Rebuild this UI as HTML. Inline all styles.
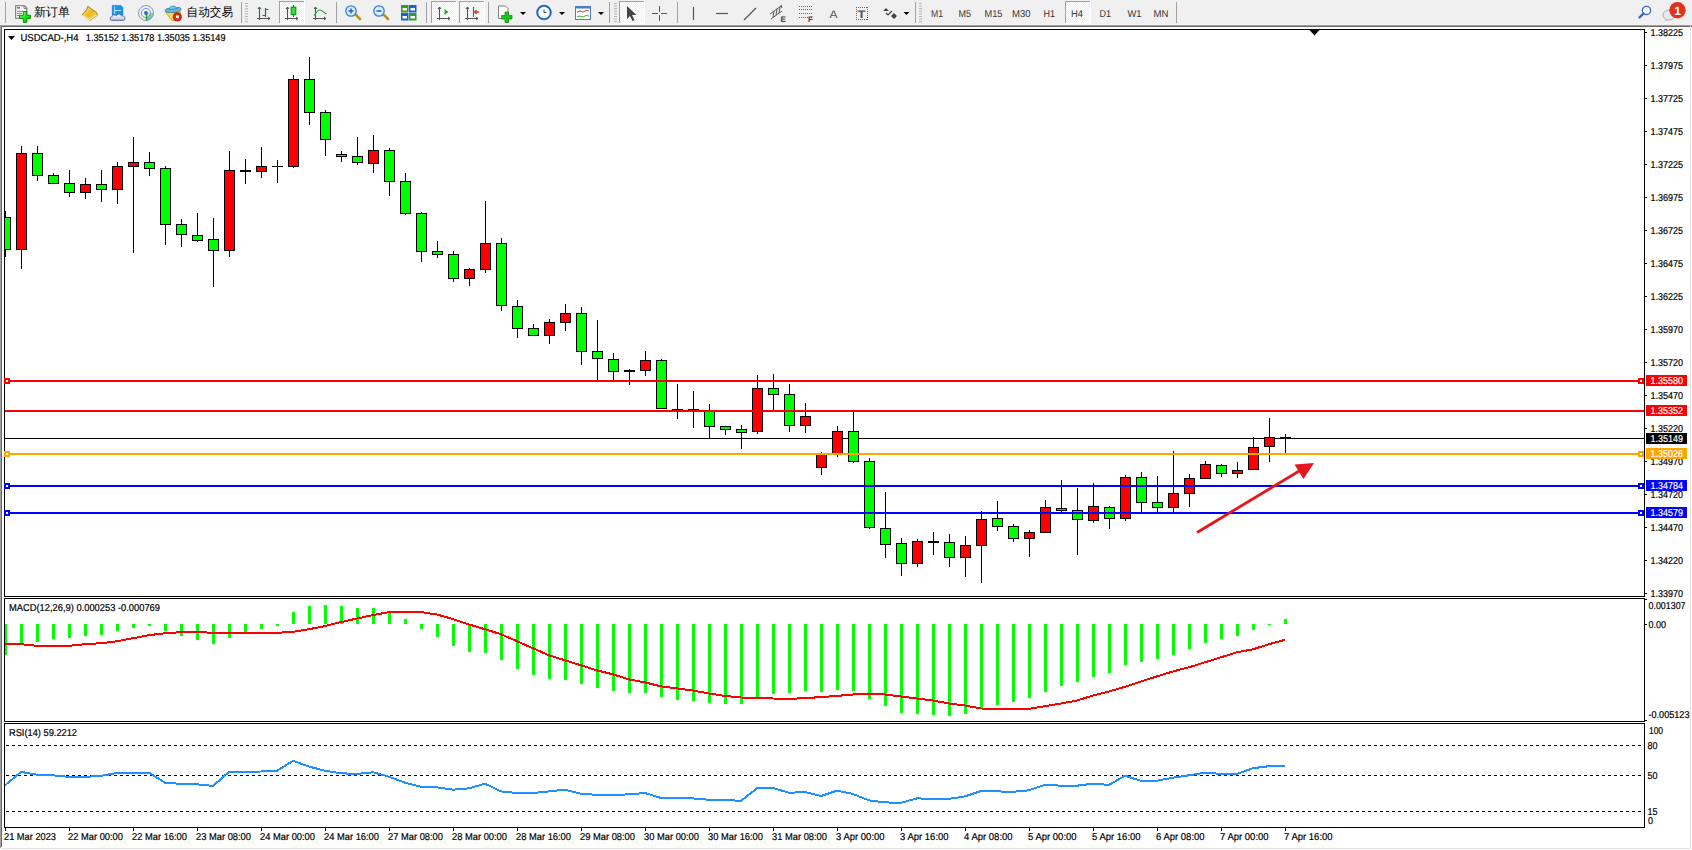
<!DOCTYPE html><html><head><meta charset="utf-8"><style>html,body{margin:0;padding:0;background:#fff;overflow:hidden;}body{width:1692px;height:850px;position:relative;}svg{position:absolute;left:0;top:0;display:block;}text{text-rendering:geometricPrecision;}</style></head><body>
<svg width="1692" height="850" viewBox="0 0 1692 850" shape-rendering="crispEdges">
<rect x="0" y="0" width="1692" height="25" fill="#f0f0f0"/>
<rect x="0" y="25" width="1692" height="1" fill="#a0a0a0"/>
<rect x="0" y="26" width="1692" height="1" fill="#696969"/>
<rect x="0" y="27" width="1692" height="823" fill="#ffffff"/>
<rect x="0" y="25" width="1" height="823" fill="#a0a0a0"/>
<rect x="1" y="26" width="1" height="821" fill="#696969"/>
<rect x="1" y="848" width="1690" height="1" fill="#e3e3e3"/>
<rect x="1690" y="26" width="1" height="823" fill="#e3e3e3"/>
<rect x="4" y="29" width="1641" height="1" fill="#000"/>
<rect x="4" y="29" width="1" height="568" fill="#000"/>
<rect x="1644" y="29" width="1" height="568" fill="#000"/>
<rect x="4" y="596" width="1641" height="1" fill="#000"/>
<rect x="4" y="598" width="1641" height="1" fill="#000"/>
<rect x="4" y="598" width="1" height="124" fill="#000"/>
<rect x="1644" y="598" width="1" height="124" fill="#000"/>
<rect x="4" y="721" width="1641" height="1" fill="#000"/>
<rect x="4" y="723" width="1641" height="1" fill="#000"/>
<rect x="4" y="723" width="1" height="105" fill="#000"/>
<rect x="1644" y="723" width="1" height="105" fill="#000"/>
<rect x="4" y="827" width="1641" height="1" fill="#000"/>
<svg x="5" y="30" width="1639" height="566" viewBox="5 30 1639 566" overflow="hidden">
<rect x="5" y="438" width="1639" height="1" fill="#000"/>
<rect x="5" y="211" width="1" height="46" fill="#000"/>
<rect x="0" y="217" width="11" height="33" fill="#000"/>
<rect x="1" y="218" width="9" height="31" fill="#00ff00"/>
<rect x="21" y="146" width="1" height="123" fill="#000"/>
<rect x="16" y="153" width="11" height="97" fill="#000"/>
<rect x="17" y="154" width="9" height="95" fill="#ff0000"/>
<rect x="37" y="146" width="1" height="35" fill="#000"/>
<rect x="32" y="153" width="11" height="23" fill="#000"/>
<rect x="33" y="154" width="9" height="21" fill="#00ff00"/>
<rect x="53" y="173" width="1" height="11" fill="#000"/>
<rect x="48" y="175" width="11" height="9" fill="#000"/>
<rect x="49" y="176" width="9" height="7" fill="#00ff00"/>
<rect x="69" y="170" width="1" height="27" fill="#000"/>
<rect x="64" y="183" width="11" height="10" fill="#000"/>
<rect x="65" y="184" width="9" height="8" fill="#00ff00"/>
<rect x="85" y="178" width="1" height="21" fill="#000"/>
<rect x="80" y="184" width="11" height="9" fill="#000"/>
<rect x="81" y="185" width="9" height="7" fill="#ff0000"/>
<rect x="101" y="170" width="1" height="32" fill="#000"/>
<rect x="96" y="184" width="11" height="6" fill="#000"/>
<rect x="97" y="185" width="9" height="4" fill="#00ff00"/>
<rect x="117" y="162" width="1" height="42" fill="#000"/>
<rect x="112" y="166" width="11" height="24" fill="#000"/>
<rect x="113" y="167" width="9" height="22" fill="#ff0000"/>
<rect x="133" y="137" width="1" height="116" fill="#000"/>
<rect x="128" y="162" width="11" height="5" fill="#000"/>
<rect x="129" y="163" width="9" height="3" fill="#ff0000"/>
<rect x="149" y="152" width="1" height="24" fill="#000"/>
<rect x="144" y="162" width="11" height="7" fill="#000"/>
<rect x="145" y="163" width="9" height="5" fill="#00ff00"/>
<rect x="165" y="166" width="1" height="79" fill="#000"/>
<rect x="160" y="168" width="11" height="57" fill="#000"/>
<rect x="161" y="169" width="9" height="55" fill="#00ff00"/>
<rect x="181" y="219" width="1" height="28" fill="#000"/>
<rect x="176" y="224" width="11" height="11" fill="#000"/>
<rect x="177" y="225" width="9" height="9" fill="#00ff00"/>
<rect x="197" y="213" width="1" height="29" fill="#000"/>
<rect x="192" y="235" width="11" height="6" fill="#000"/>
<rect x="193" y="236" width="9" height="4" fill="#00ff00"/>
<rect x="213" y="218" width="1" height="69" fill="#000"/>
<rect x="208" y="239" width="11" height="12" fill="#000"/>
<rect x="209" y="240" width="9" height="10" fill="#00ff00"/>
<rect x="229" y="151" width="1" height="106" fill="#000"/>
<rect x="224" y="170" width="11" height="81" fill="#000"/>
<rect x="225" y="171" width="9" height="79" fill="#ff0000"/>
<rect x="245" y="159" width="1" height="25" fill="#000"/>
<rect x="240" y="170" width="11" height="2" fill="#000"/>
<rect x="261" y="147" width="1" height="31" fill="#000"/>
<rect x="256" y="166" width="11" height="6" fill="#000"/>
<rect x="257" y="167" width="9" height="4" fill="#ff0000"/>
<rect x="277" y="160" width="1" height="23" fill="#000"/>
<rect x="272" y="166" width="11" height="1" fill="#000"/>
<rect x="293" y="75" width="1" height="93" fill="#000"/>
<rect x="288" y="79" width="11" height="88" fill="#000"/>
<rect x="289" y="80" width="9" height="86" fill="#ff0000"/>
<rect x="309" y="57" width="1" height="68" fill="#000"/>
<rect x="304" y="79" width="11" height="34" fill="#000"/>
<rect x="305" y="80" width="9" height="32" fill="#00ff00"/>
<rect x="325" y="110" width="1" height="46" fill="#000"/>
<rect x="320" y="112" width="11" height="28" fill="#000"/>
<rect x="321" y="113" width="9" height="26" fill="#00ff00"/>
<rect x="341" y="151" width="1" height="11" fill="#000"/>
<rect x="336" y="154" width="11" height="3" fill="#000"/>
<rect x="337" y="155" width="9" height="1" fill="#00ff00"/>
<rect x="357" y="137" width="1" height="28" fill="#000"/>
<rect x="352" y="156" width="11" height="7" fill="#000"/>
<rect x="353" y="157" width="9" height="5" fill="#00ff00"/>
<rect x="373" y="135" width="1" height="38" fill="#000"/>
<rect x="368" y="150" width="11" height="14" fill="#000"/>
<rect x="369" y="151" width="9" height="12" fill="#ff0000"/>
<rect x="389" y="148" width="1" height="48" fill="#000"/>
<rect x="384" y="150" width="11" height="32" fill="#000"/>
<rect x="385" y="151" width="9" height="30" fill="#00ff00"/>
<rect x="405" y="173" width="1" height="42" fill="#000"/>
<rect x="400" y="181" width="11" height="33" fill="#000"/>
<rect x="401" y="182" width="9" height="31" fill="#00ff00"/>
<rect x="421" y="212" width="1" height="50" fill="#000"/>
<rect x="416" y="213" width="11" height="39" fill="#000"/>
<rect x="417" y="214" width="9" height="37" fill="#00ff00"/>
<rect x="437" y="241" width="1" height="17" fill="#000"/>
<rect x="432" y="251" width="11" height="4" fill="#000"/>
<rect x="433" y="252" width="9" height="2" fill="#00ff00"/>
<rect x="453" y="251" width="1" height="31" fill="#000"/>
<rect x="448" y="254" width="11" height="25" fill="#000"/>
<rect x="449" y="255" width="9" height="23" fill="#00ff00"/>
<rect x="469" y="268" width="1" height="18" fill="#000"/>
<rect x="464" y="269" width="11" height="10" fill="#000"/>
<rect x="465" y="270" width="9" height="8" fill="#ff0000"/>
<rect x="485" y="201" width="1" height="72" fill="#000"/>
<rect x="480" y="243" width="11" height="27" fill="#000"/>
<rect x="481" y="244" width="9" height="25" fill="#ff0000"/>
<rect x="501" y="238" width="1" height="73" fill="#000"/>
<rect x="496" y="243" width="11" height="63" fill="#000"/>
<rect x="497" y="244" width="9" height="61" fill="#00ff00"/>
<rect x="517" y="300" width="1" height="38" fill="#000"/>
<rect x="512" y="306" width="11" height="23" fill="#000"/>
<rect x="513" y="307" width="9" height="21" fill="#00ff00"/>
<rect x="533" y="324" width="1" height="12" fill="#000"/>
<rect x="528" y="328" width="11" height="8" fill="#000"/>
<rect x="529" y="329" width="9" height="6" fill="#00ff00"/>
<rect x="549" y="319" width="1" height="25" fill="#000"/>
<rect x="544" y="322" width="11" height="14" fill="#000"/>
<rect x="545" y="323" width="9" height="12" fill="#ff0000"/>
<rect x="565" y="304" width="1" height="27" fill="#000"/>
<rect x="560" y="313" width="11" height="10" fill="#000"/>
<rect x="561" y="314" width="9" height="8" fill="#ff0000"/>
<rect x="581" y="307" width="1" height="58" fill="#000"/>
<rect x="576" y="313" width="11" height="39" fill="#000"/>
<rect x="577" y="314" width="9" height="37" fill="#00ff00"/>
<rect x="597" y="320" width="1" height="61" fill="#000"/>
<rect x="592" y="351" width="11" height="8" fill="#000"/>
<rect x="593" y="352" width="9" height="6" fill="#00ff00"/>
<rect x="613" y="353" width="1" height="27" fill="#000"/>
<rect x="608" y="359" width="11" height="13" fill="#000"/>
<rect x="609" y="360" width="9" height="11" fill="#00ff00"/>
<rect x="629" y="369" width="1" height="16" fill="#000"/>
<rect x="624" y="370" width="11" height="2" fill="#000"/>
<rect x="645" y="351" width="1" height="25" fill="#000"/>
<rect x="640" y="360" width="11" height="11" fill="#000"/>
<rect x="641" y="361" width="9" height="9" fill="#ff0000"/>
<rect x="661" y="359" width="1" height="50" fill="#000"/>
<rect x="656" y="360" width="11" height="49" fill="#000"/>
<rect x="657" y="361" width="9" height="47" fill="#00ff00"/>
<rect x="677" y="384" width="1" height="35" fill="#000"/>
<rect x="672" y="409" width="11" height="1" fill="#000"/>
<rect x="693" y="391" width="1" height="37" fill="#000"/>
<rect x="688" y="409" width="11" height="1" fill="#000"/>
<rect x="709" y="404" width="1" height="35" fill="#000"/>
<rect x="704" y="411" width="11" height="16" fill="#000"/>
<rect x="705" y="412" width="9" height="14" fill="#00ff00"/>
<rect x="725" y="426" width="1" height="9" fill="#000"/>
<rect x="720" y="426" width="11" height="4" fill="#000"/>
<rect x="721" y="427" width="9" height="2" fill="#00ff00"/>
<rect x="741" y="425" width="1" height="24" fill="#000"/>
<rect x="736" y="429" width="11" height="4" fill="#000"/>
<rect x="737" y="430" width="9" height="2" fill="#00ff00"/>
<rect x="757" y="375" width="1" height="59" fill="#000"/>
<rect x="752" y="388" width="11" height="44" fill="#000"/>
<rect x="753" y="389" width="9" height="42" fill="#ff0000"/>
<rect x="773" y="374" width="1" height="37" fill="#000"/>
<rect x="768" y="388" width="11" height="7" fill="#000"/>
<rect x="769" y="389" width="9" height="5" fill="#00ff00"/>
<rect x="789" y="384" width="1" height="48" fill="#000"/>
<rect x="784" y="394" width="11" height="32" fill="#000"/>
<rect x="785" y="395" width="9" height="30" fill="#00ff00"/>
<rect x="805" y="403" width="1" height="30" fill="#000"/>
<rect x="800" y="416" width="11" height="10" fill="#000"/>
<rect x="801" y="417" width="9" height="8" fill="#ff0000"/>
<rect x="821" y="452" width="1" height="23" fill="#000"/>
<rect x="816" y="454" width="11" height="14" fill="#000"/>
<rect x="817" y="455" width="9" height="12" fill="#ff0000"/>
<rect x="837" y="426" width="1" height="31" fill="#000"/>
<rect x="832" y="431" width="11" height="23" fill="#000"/>
<rect x="833" y="432" width="9" height="21" fill="#ff0000"/>
<rect x="853" y="412" width="1" height="51" fill="#000"/>
<rect x="848" y="431" width="11" height="31" fill="#000"/>
<rect x="849" y="432" width="9" height="29" fill="#00ff00"/>
<rect x="869" y="458" width="1" height="71" fill="#000"/>
<rect x="864" y="461" width="11" height="67" fill="#000"/>
<rect x="865" y="462" width="9" height="65" fill="#00ff00"/>
<rect x="885" y="492" width="1" height="66" fill="#000"/>
<rect x="880" y="528" width="11" height="17" fill="#000"/>
<rect x="881" y="529" width="9" height="15" fill="#00ff00"/>
<rect x="901" y="538" width="1" height="38" fill="#000"/>
<rect x="896" y="543" width="11" height="21" fill="#000"/>
<rect x="897" y="544" width="9" height="19" fill="#00ff00"/>
<rect x="917" y="539" width="1" height="28" fill="#000"/>
<rect x="912" y="541" width="11" height="23" fill="#000"/>
<rect x="913" y="542" width="9" height="21" fill="#ff0000"/>
<rect x="933" y="532" width="1" height="23" fill="#000"/>
<rect x="928" y="541" width="11" height="2" fill="#000"/>
<rect x="949" y="534" width="1" height="33" fill="#000"/>
<rect x="944" y="542" width="11" height="16" fill="#000"/>
<rect x="945" y="543" width="9" height="14" fill="#00ff00"/>
<rect x="965" y="536" width="1" height="41" fill="#000"/>
<rect x="960" y="545" width="11" height="13" fill="#000"/>
<rect x="961" y="546" width="9" height="11" fill="#ff0000"/>
<rect x="981" y="511" width="1" height="72" fill="#000"/>
<rect x="976" y="519" width="11" height="27" fill="#000"/>
<rect x="977" y="520" width="9" height="25" fill="#ff0000"/>
<rect x="997" y="501" width="1" height="30" fill="#000"/>
<rect x="992" y="518" width="11" height="9" fill="#000"/>
<rect x="993" y="519" width="9" height="7" fill="#00ff00"/>
<rect x="1013" y="524" width="1" height="18" fill="#000"/>
<rect x="1008" y="526" width="11" height="13" fill="#000"/>
<rect x="1009" y="527" width="9" height="11" fill="#00ff00"/>
<rect x="1029" y="530" width="1" height="27" fill="#000"/>
<rect x="1024" y="532" width="11" height="7" fill="#000"/>
<rect x="1025" y="533" width="9" height="5" fill="#ff0000"/>
<rect x="1045" y="500" width="1" height="33" fill="#000"/>
<rect x="1040" y="507" width="11" height="26" fill="#000"/>
<rect x="1041" y="508" width="9" height="24" fill="#ff0000"/>
<rect x="1061" y="480" width="1" height="32" fill="#000"/>
<rect x="1056" y="508" width="11" height="3" fill="#000"/>
<rect x="1057" y="509" width="9" height="1" fill="#00ff00"/>
<rect x="1077" y="488" width="1" height="67" fill="#000"/>
<rect x="1072" y="510" width="11" height="10" fill="#000"/>
<rect x="1073" y="511" width="9" height="8" fill="#00ff00"/>
<rect x="1093" y="483" width="1" height="40" fill="#000"/>
<rect x="1088" y="506" width="11" height="15" fill="#000"/>
<rect x="1089" y="507" width="9" height="13" fill="#ff0000"/>
<rect x="1109" y="506" width="1" height="23" fill="#000"/>
<rect x="1104" y="507" width="11" height="12" fill="#000"/>
<rect x="1105" y="508" width="9" height="10" fill="#00ff00"/>
<rect x="1125" y="475" width="1" height="46" fill="#000"/>
<rect x="1120" y="477" width="11" height="42" fill="#000"/>
<rect x="1121" y="478" width="9" height="40" fill="#ff0000"/>
<rect x="1141" y="472" width="1" height="40" fill="#000"/>
<rect x="1136" y="477" width="11" height="26" fill="#000"/>
<rect x="1137" y="478" width="9" height="24" fill="#00ff00"/>
<rect x="1157" y="476" width="1" height="36" fill="#000"/>
<rect x="1152" y="502" width="11" height="6" fill="#000"/>
<rect x="1153" y="503" width="9" height="4" fill="#00ff00"/>
<rect x="1173" y="451" width="1" height="61" fill="#000"/>
<rect x="1168" y="493" width="11" height="15" fill="#000"/>
<rect x="1169" y="494" width="9" height="13" fill="#ff0000"/>
<rect x="1189" y="474" width="1" height="33" fill="#000"/>
<rect x="1184" y="478" width="11" height="16" fill="#000"/>
<rect x="1185" y="479" width="9" height="14" fill="#ff0000"/>
<rect x="1205" y="461" width="1" height="18" fill="#000"/>
<rect x="1200" y="464" width="11" height="15" fill="#000"/>
<rect x="1201" y="465" width="9" height="13" fill="#ff0000"/>
<rect x="1221" y="464" width="1" height="13" fill="#000"/>
<rect x="1216" y="465" width="11" height="9" fill="#000"/>
<rect x="1217" y="466" width="9" height="7" fill="#00ff00"/>
<rect x="1237" y="462" width="1" height="16" fill="#000"/>
<rect x="1232" y="470" width="11" height="4" fill="#000"/>
<rect x="1233" y="471" width="9" height="2" fill="#ff0000"/>
<rect x="1253" y="437" width="1" height="33" fill="#000"/>
<rect x="1248" y="447" width="11" height="23" fill="#000"/>
<rect x="1249" y="448" width="9" height="21" fill="#ff0000"/>
<rect x="1269" y="418" width="1" height="44" fill="#000"/>
<rect x="1264" y="437" width="11" height="10" fill="#000"/>
<rect x="1265" y="438" width="9" height="8" fill="#ff0000"/>
<rect x="1285" y="434" width="1" height="20" fill="#000"/>
<rect x="1280" y="437" width="11" height="2" fill="#000"/>
<rect x="5" y="380" width="1639" height="2" fill="#ff0000"/>
<rect x="5" y="410" width="1639" height="2" fill="#ff0000"/>
<rect x="5" y="453" width="1639" height="2" fill="#ffa500"/>
<rect x="5" y="485" width="1639" height="2" fill="#0000ff"/>
<rect x="5" y="512" width="1639" height="2" fill="#0000ff"/>
</svg>
<rect x="4" y="378" width="6" height="6" fill="#ff0000"/>
<rect x="6" y="380" width="2" height="2" fill="#fff"/>
<rect x="1638" y="378" width="6" height="6" fill="#ff0000"/>
<rect x="1640" y="380" width="2" height="2" fill="#fff"/>
<rect x="4" y="451" width="6" height="6" fill="#ffa500"/>
<rect x="6" y="453" width="2" height="2" fill="#fff"/>
<rect x="1638" y="451" width="6" height="6" fill="#ffa500"/>
<rect x="1640" y="453" width="2" height="2" fill="#fff"/>
<rect x="4" y="483" width="6" height="6" fill="#0000ff"/>
<rect x="6" y="485" width="2" height="2" fill="#fff"/>
<rect x="1638" y="483" width="6" height="6" fill="#0000ff"/>
<rect x="1640" y="485" width="2" height="2" fill="#fff"/>
<rect x="4" y="510" width="6" height="6" fill="#0000ff"/>
<rect x="6" y="512" width="2" height="2" fill="#fff"/>
<rect x="1638" y="510" width="6" height="6" fill="#0000ff"/>
<rect x="1640" y="512" width="2" height="2" fill="#fff"/>
<g shape-rendering="auto">
<line x1="1197" y1="532.5" x2="1300" y2="470.5" stroke="#e8141e" stroke-width="2.8"/>
<polygon points="1314,463 1294.5,464.5 1303.5,479" fill="#e8141e"/>
</g>
<polygon points="1309.5,30 1319.5,30 1314.5,35.5" fill="#000" shape-rendering="auto"/>
<polygon points="8,36 15,36 11.5,40" fill="#000" shape-rendering="auto"/>
<text x="20.5" y="41" font-size="10" fill="#000" stroke="#000" stroke-width="0.2" textLength="58" lengthAdjust="spacingAndGlyphs" style='font-family:"Liberation Sans", sans-serif'>USDCAD-,H4</text>
<text x="85.8" y="41" font-size="10" fill="#000" stroke="#000" stroke-width="0.2" textLength="139.7" lengthAdjust="spacingAndGlyphs" style='font-family:"Liberation Sans", sans-serif'>1.35152 1.35178 1.35035 1.35149</text>
<rect x="1645" y="32" width="2" height="1" fill="#000"/>
<text x="1650.5" y="36" font-size="10" fill="#000" stroke="#000" stroke-width="0.2" textLength="32.5" lengthAdjust="spacingAndGlyphs" style='font-family:"Liberation Sans", sans-serif'>1.38225</text>
<rect x="1645" y="65" width="2" height="1" fill="#000"/>
<text x="1650.5" y="69" font-size="10" fill="#000" stroke="#000" stroke-width="0.2" textLength="32.5" lengthAdjust="spacingAndGlyphs" style='font-family:"Liberation Sans", sans-serif'>1.37975</text>
<rect x="1645" y="98" width="2" height="1" fill="#000"/>
<text x="1650.5" y="102" font-size="10" fill="#000" stroke="#000" stroke-width="0.2" textLength="32.5" lengthAdjust="spacingAndGlyphs" style='font-family:"Liberation Sans", sans-serif'>1.37725</text>
<rect x="1645" y="131" width="2" height="1" fill="#000"/>
<text x="1650.5" y="135" font-size="10" fill="#000" stroke="#000" stroke-width="0.2" textLength="32.5" lengthAdjust="spacingAndGlyphs" style='font-family:"Liberation Sans", sans-serif'>1.37475</text>
<rect x="1645" y="164" width="2" height="1" fill="#000"/>
<text x="1650.5" y="168" font-size="10" fill="#000" stroke="#000" stroke-width="0.2" textLength="32.5" lengthAdjust="spacingAndGlyphs" style='font-family:"Liberation Sans", sans-serif'>1.37225</text>
<rect x="1645" y="197" width="2" height="1" fill="#000"/>
<text x="1650.5" y="201" font-size="10" fill="#000" stroke="#000" stroke-width="0.2" textLength="32.5" lengthAdjust="spacingAndGlyphs" style='font-family:"Liberation Sans", sans-serif'>1.36975</text>
<rect x="1645" y="230" width="2" height="1" fill="#000"/>
<text x="1650.5" y="234" font-size="10" fill="#000" stroke="#000" stroke-width="0.2" textLength="32.5" lengthAdjust="spacingAndGlyphs" style='font-family:"Liberation Sans", sans-serif'>1.36725</text>
<rect x="1645" y="263" width="2" height="1" fill="#000"/>
<text x="1650.5" y="267" font-size="10" fill="#000" stroke="#000" stroke-width="0.2" textLength="32.5" lengthAdjust="spacingAndGlyphs" style='font-family:"Liberation Sans", sans-serif'>1.36475</text>
<rect x="1645" y="296" width="2" height="1" fill="#000"/>
<text x="1650.5" y="300" font-size="10" fill="#000" stroke="#000" stroke-width="0.2" textLength="32.5" lengthAdjust="spacingAndGlyphs" style='font-family:"Liberation Sans", sans-serif'>1.36225</text>
<rect x="1645" y="329" width="2" height="1" fill="#000"/>
<text x="1650.5" y="333" font-size="10" fill="#000" stroke="#000" stroke-width="0.2" textLength="32.5" lengthAdjust="spacingAndGlyphs" style='font-family:"Liberation Sans", sans-serif'>1.35970</text>
<rect x="1645" y="362" width="2" height="1" fill="#000"/>
<text x="1650.5" y="366" font-size="10" fill="#000" stroke="#000" stroke-width="0.2" textLength="32.5" lengthAdjust="spacingAndGlyphs" style='font-family:"Liberation Sans", sans-serif'>1.35720</text>
<rect x="1645" y="395" width="2" height="1" fill="#000"/>
<text x="1650.5" y="399" font-size="10" fill="#000" stroke="#000" stroke-width="0.2" textLength="32.5" lengthAdjust="spacingAndGlyphs" style='font-family:"Liberation Sans", sans-serif'>1.35470</text>
<rect x="1645" y="428" width="2" height="1" fill="#000"/>
<text x="1650.5" y="432" font-size="10" fill="#000" stroke="#000" stroke-width="0.2" textLength="32.5" lengthAdjust="spacingAndGlyphs" style='font-family:"Liberation Sans", sans-serif'>1.35220</text>
<rect x="1645" y="461" width="2" height="1" fill="#000"/>
<text x="1650.5" y="465" font-size="10" fill="#000" stroke="#000" stroke-width="0.2" textLength="32.5" lengthAdjust="spacingAndGlyphs" style='font-family:"Liberation Sans", sans-serif'>1.34970</text>
<rect x="1645" y="494" width="2" height="1" fill="#000"/>
<text x="1650.5" y="498" font-size="10" fill="#000" stroke="#000" stroke-width="0.2" textLength="32.5" lengthAdjust="spacingAndGlyphs" style='font-family:"Liberation Sans", sans-serif'>1.34720</text>
<rect x="1645" y="527" width="2" height="1" fill="#000"/>
<text x="1650.5" y="531" font-size="10" fill="#000" stroke="#000" stroke-width="0.2" textLength="32.5" lengthAdjust="spacingAndGlyphs" style='font-family:"Liberation Sans", sans-serif'>1.34470</text>
<rect x="1645" y="560" width="2" height="1" fill="#000"/>
<text x="1650.5" y="564" font-size="10" fill="#000" stroke="#000" stroke-width="0.2" textLength="32.5" lengthAdjust="spacingAndGlyphs" style='font-family:"Liberation Sans", sans-serif'>1.34220</text>
<rect x="1645" y="593" width="2" height="1" fill="#000"/>
<text x="1650.5" y="597" font-size="10" fill="#000" stroke="#000" stroke-width="0.2" textLength="32.5" lengthAdjust="spacingAndGlyphs" style='font-family:"Liberation Sans", sans-serif'>1.33970</text>
<rect x="1646" y="375" width="41" height="11" fill="#ff0000"/>
<text x="1650.5" y="384" font-size="10" fill="#fff" stroke="#fff" stroke-width="0.2" textLength="32.5" lengthAdjust="spacingAndGlyphs" style='font-family:"Liberation Sans", sans-serif'>1.35580</text>
<rect x="1646" y="405" width="41" height="11" fill="#ff0000"/>
<text x="1650.5" y="414" font-size="10" fill="#fff" stroke="#fff" stroke-width="0.2" textLength="32.5" lengthAdjust="spacingAndGlyphs" style='font-family:"Liberation Sans", sans-serif'>1.35352</text>
<rect x="1646" y="433" width="41" height="11" fill="#000"/>
<text x="1650.5" y="442" font-size="10" fill="#fff" stroke="#fff" stroke-width="0.2" textLength="32.5" lengthAdjust="spacingAndGlyphs" style='font-family:"Liberation Sans", sans-serif'>1.35149</text>
<rect x="1646" y="448" width="41" height="11" fill="#ffa500"/>
<text x="1650.5" y="457" font-size="10" fill="#fff" stroke="#fff" stroke-width="0.2" textLength="32.5" lengthAdjust="spacingAndGlyphs" style='font-family:"Liberation Sans", sans-serif'>1.35026</text>
<rect x="1646" y="480" width="41" height="11" fill="#0000ff"/>
<text x="1650.5" y="489" font-size="10" fill="#fff" stroke="#fff" stroke-width="0.2" textLength="32.5" lengthAdjust="spacingAndGlyphs" style='font-family:"Liberation Sans", sans-serif'>1.34784</text>
<rect x="1646" y="507" width="41" height="11" fill="#0000ff"/>
<text x="1650.5" y="516" font-size="10" fill="#fff" stroke="#fff" stroke-width="0.2" textLength="32.5" lengthAdjust="spacingAndGlyphs" style='font-family:"Liberation Sans", sans-serif'>1.34579</text>
<svg x="5" y="599" width="1639" height="122" viewBox="5 599 1639 122" overflow="hidden">
<rect x="4" y="624" width="3" height="31" fill="#00ff00"/>
<rect x="20" y="624" width="3" height="21" fill="#00ff00"/>
<rect x="36" y="624" width="3" height="18" fill="#00ff00"/>
<rect x="52" y="624" width="3" height="15" fill="#00ff00"/>
<rect x="68" y="624" width="3" height="14" fill="#00ff00"/>
<rect x="84" y="624" width="3" height="12" fill="#00ff00"/>
<rect x="100" y="624" width="3" height="11" fill="#00ff00"/>
<rect x="116" y="624" width="3" height="7" fill="#00ff00"/>
<rect x="132" y="624" width="3" height="4" fill="#00ff00"/>
<rect x="148" y="624" width="3" height="2" fill="#00ff00"/>
<rect x="164" y="624" width="3" height="7" fill="#00ff00"/>
<rect x="180" y="624" width="3" height="12" fill="#00ff00"/>
<rect x="196" y="624" width="3" height="16" fill="#00ff00"/>
<rect x="212" y="624" width="3" height="20" fill="#00ff00"/>
<rect x="228" y="624" width="3" height="14" fill="#00ff00"/>
<rect x="244" y="624" width="3" height="8" fill="#00ff00"/>
<rect x="260" y="624" width="3" height="5" fill="#00ff00"/>
<rect x="276" y="624" width="3" height="2" fill="#00ff00"/>
<rect x="292" y="612" width="3" height="12" fill="#00ff00"/>
<rect x="308" y="606" width="3" height="18" fill="#00ff00"/>
<rect x="324" y="605" width="3" height="19" fill="#00ff00"/>
<rect x="340" y="606" width="3" height="18" fill="#00ff00"/>
<rect x="356" y="608" width="3" height="16" fill="#00ff00"/>
<rect x="372" y="608" width="3" height="16" fill="#00ff00"/>
<rect x="388" y="613" width="3" height="11" fill="#00ff00"/>
<rect x="404" y="619" width="3" height="5" fill="#00ff00"/>
<rect x="420" y="624" width="3" height="5" fill="#00ff00"/>
<rect x="436" y="624" width="3" height="13" fill="#00ff00"/>
<rect x="452" y="624" width="3" height="22" fill="#00ff00"/>
<rect x="468" y="624" width="3" height="28" fill="#00ff00"/>
<rect x="484" y="624" width="3" height="29" fill="#00ff00"/>
<rect x="500" y="624" width="3" height="36" fill="#00ff00"/>
<rect x="516" y="624" width="3" height="45" fill="#00ff00"/>
<rect x="532" y="624" width="3" height="51" fill="#00ff00"/>
<rect x="548" y="624" width="3" height="55" fill="#00ff00"/>
<rect x="564" y="624" width="3" height="56" fill="#00ff00"/>
<rect x="580" y="624" width="3" height="60" fill="#00ff00"/>
<rect x="596" y="624" width="3" height="64" fill="#00ff00"/>
<rect x="612" y="624" width="3" height="67" fill="#00ff00"/>
<rect x="628" y="624" width="3" height="69" fill="#00ff00"/>
<rect x="644" y="624" width="3" height="69" fill="#00ff00"/>
<rect x="660" y="624" width="3" height="73" fill="#00ff00"/>
<rect x="676" y="624" width="3" height="76" fill="#00ff00"/>
<rect x="692" y="624" width="3" height="77" fill="#00ff00"/>
<rect x="708" y="624" width="3" height="79" fill="#00ff00"/>
<rect x="724" y="624" width="3" height="80" fill="#00ff00"/>
<rect x="740" y="624" width="3" height="80" fill="#00ff00"/>
<rect x="756" y="624" width="3" height="73" fill="#00ff00"/>
<rect x="772" y="624" width="3" height="70" fill="#00ff00"/>
<rect x="788" y="624" width="3" height="69" fill="#00ff00"/>
<rect x="804" y="624" width="3" height="67" fill="#00ff00"/>
<rect x="820" y="624" width="3" height="68" fill="#00ff00"/>
<rect x="836" y="624" width="3" height="66" fill="#00ff00"/>
<rect x="852" y="624" width="3" height="67" fill="#00ff00"/>
<rect x="868" y="624" width="3" height="75" fill="#00ff00"/>
<rect x="884" y="624" width="3" height="82" fill="#00ff00"/>
<rect x="900" y="624" width="3" height="89" fill="#00ff00"/>
<rect x="916" y="624" width="3" height="90" fill="#00ff00"/>
<rect x="932" y="624" width="3" height="91" fill="#00ff00"/>
<rect x="948" y="624" width="3" height="92" fill="#00ff00"/>
<rect x="964" y="624" width="3" height="90" fill="#00ff00"/>
<rect x="980" y="624" width="3" height="84" fill="#00ff00"/>
<rect x="996" y="624" width="3" height="81" fill="#00ff00"/>
<rect x="1012" y="624" width="3" height="78" fill="#00ff00"/>
<rect x="1028" y="624" width="3" height="74" fill="#00ff00"/>
<rect x="1044" y="624" width="3" height="68" fill="#00ff00"/>
<rect x="1060" y="624" width="3" height="62" fill="#00ff00"/>
<rect x="1076" y="624" width="3" height="58" fill="#00ff00"/>
<rect x="1092" y="624" width="3" height="53" fill="#00ff00"/>
<rect x="1108" y="624" width="3" height="49" fill="#00ff00"/>
<rect x="1124" y="624" width="3" height="41" fill="#00ff00"/>
<rect x="1140" y="624" width="3" height="38" fill="#00ff00"/>
<rect x="1156" y="624" width="3" height="35" fill="#00ff00"/>
<rect x="1172" y="624" width="3" height="31" fill="#00ff00"/>
<rect x="1188" y="624" width="3" height="25" fill="#00ff00"/>
<rect x="1204" y="624" width="3" height="19" fill="#00ff00"/>
<rect x="1220" y="624" width="3" height="15" fill="#00ff00"/>
<rect x="1236" y="624" width="3" height="12" fill="#00ff00"/>
<rect x="1252" y="624" width="3" height="6" fill="#00ff00"/>
<rect x="1268" y="624" width="3" height="1" fill="#00ff00"/>
<rect x="1284" y="619" width="3" height="5" fill="#00ff00"/>
<polyline points="5,643.8 21,644.2 37,645.8 53,645.8 69,645.8 85,644.2 101,643.2 117,641.2 133,638.2 149,635.2 165,633.2 181,632.2 197,632.0 213,632.8 229,632.8 245,632.8 261,632.8 277,632.8 293,631.8 309,629.2 325,626.1 341,622.1 357,618.5 373,615.1 389,612.1 405,611.7 421,612.1 437,614.5 453,619.1 469,624.5 485,629.2 501,634.2 517,641.2 533,648.3 549,655.3 565,660.3 581,665.3 597,670.4 613,674.4 629,679.4 645,682.4 661,686.4 677,688.4 693,690.5 709,693.5 725,695.9 741,697.5 757,697.9 773,698.5 789,698.9 805,698.1 821,697.1 837,695.9 853,694.5 869,693.9 885,694.5 901,696.5 917,698.5 933,700.5 949,703.5 965,705.5 981,708.5 997,708.9 1013,708.9 1029,708.9 1045,706.1 1061,703.5 1077,700.5 1093,695.5 1109,691.5 1125,686.8 1141,681.4 1157,676.4 1173,671.4 1189,667.3 1205,662.3 1221,657.3 1237,652.3 1253,649.3 1269,644.2 1285,639.8" fill="none" stroke="#ff0000" stroke-width="2" shape-rendering="crispEdges"/>
</svg>
<text x="9" y="611" font-size="10" fill="#000" stroke="#000" stroke-width="0.2" textLength="151" lengthAdjust="spacingAndGlyphs" style='font-family:"Liberation Sans", sans-serif'>MACD(12,26,9) 0.000253 -0.000769</text>
<rect x="1645" y="599" width="2" height="1" fill="#000"/>
<rect x="1645" y="624" width="2" height="1" fill="#000"/>
<rect x="1645" y="720" width="2" height="1" fill="#000"/>
<text x="1648.5" y="609" font-size="10" fill="#000" stroke="#000" stroke-width="0.2" textLength="37" lengthAdjust="spacingAndGlyphs" style='font-family:"Liberation Sans", sans-serif'>0.001307</text>
<text x="1648.5" y="628" font-size="10" fill="#000" stroke="#000" stroke-width="0.2" textLength="17.5" lengthAdjust="spacingAndGlyphs" style='font-family:"Liberation Sans", sans-serif'>0.00</text>
<text x="1648.5" y="718" font-size="10" fill="#000" stroke="#000" stroke-width="0.2" textLength="41" lengthAdjust="spacingAndGlyphs" style='font-family:"Liberation Sans", sans-serif'>-0.005123</text>
<svg x="5" y="724" width="1639" height="103" viewBox="5 724 1639 103" overflow="hidden">
<line x1="6" y1="745.5" x2="1644" y2="745.5" stroke="#000" stroke-width="1" stroke-dasharray="3 3"/>
<line x1="6" y1="775.5" x2="1644" y2="775.5" stroke="#000" stroke-width="1" stroke-dasharray="3 3"/>
<line x1="6" y1="811.5" x2="1644" y2="811.5" stroke="#000" stroke-width="1" stroke-dasharray="3 3"/>
<polyline points="5,785.3 21,771.9 37,774.7 53,775.3 69,776.9 85,776.9 101,775.9 117,772.9 133,772.7 149,772.7 165,782.7 181,783.9 197,784.3 213,785.9 229,771.9 245,771.9 261,771.5 277,770.9 293,760.8 309,766.6 325,770.7 341,773.3 357,773.9 373,772.3 389,776.7 405,782.7 421,786.7 437,787.3 453,789.7 469,788.3 485,783.7 501,791.4 517,793.0 533,793.0 549,791.4 565,789.7 581,793.8 597,794.8 613,794.8 629,794.4 645,793.0 661,798.0 677,798.0 693,798.4 709,799.8 725,800.0 741,800.8 757,788.3 773,787.9 789,792.8 805,792.0 821,796.0 837,790.7 853,794.0 869,800.4 885,802.4 901,802.8 917,798.4 933,798.8 949,798.8 965,796.4 981,791.0 997,791.4 1013,791.8 1029,790.3 1045,784.7 1061,785.7 1077,785.7 1093,783.7 1109,784.9 1125,775.7 1141,780.9 1157,780.7 1173,777.7 1189,775.3 1205,772.7 1221,773.9 1237,773.9 1253,768.2 1269,766.2 1285,765.8" fill="none" stroke="#1e90ff" stroke-width="2" shape-rendering="crispEdges"/>
</svg>
<text x="9" y="736" font-size="10" fill="#000" stroke="#000" stroke-width="0.2" textLength="68" lengthAdjust="spacingAndGlyphs" style='font-family:"Liberation Sans", sans-serif'>RSI(14) 59.2212</text>
<text x="1649" y="734" font-size="10" fill="#000" stroke="#000" stroke-width="0.2" textLength="14" lengthAdjust="spacingAndGlyphs" style='font-family:"Liberation Sans", sans-serif'>100</text>
<text x="1647.5" y="749" font-size="10" fill="#000" stroke="#000" stroke-width="0.2" textLength="10" lengthAdjust="spacingAndGlyphs" style='font-family:"Liberation Sans", sans-serif'>80</text>
<text x="1647.5" y="779" font-size="10" fill="#000" stroke="#000" stroke-width="0.2" textLength="10" lengthAdjust="spacingAndGlyphs" style='font-family:"Liberation Sans", sans-serif'>50</text>
<text x="1647.5" y="815" font-size="10" fill="#000" stroke="#000" stroke-width="0.2" textLength="10" lengthAdjust="spacingAndGlyphs" style='font-family:"Liberation Sans", sans-serif'>15</text>
<text x="1648" y="824" font-size="10" fill="#000" stroke="#000" stroke-width="0.2" textLength="5" lengthAdjust="spacingAndGlyphs" style='font-family:"Liberation Sans", sans-serif'>0</text>
<rect x="5" y="828" width="1" height="3" fill="#000"/>
<text x="4" y="840" font-size="10" fill="#000" stroke="#000" stroke-width="0.2" textLength="52" lengthAdjust="spacingAndGlyphs" style='font-family:"Liberation Sans", sans-serif'>21 Mar 2023</text>
<rect x="69" y="828" width="1" height="3" fill="#000"/>
<text x="68" y="840" font-size="10" fill="#000" stroke="#000" stroke-width="0.2" textLength="55" lengthAdjust="spacingAndGlyphs" style='font-family:"Liberation Sans", sans-serif'>22 Mar 00:00</text>
<rect x="133" y="828" width="1" height="3" fill="#000"/>
<text x="132" y="840" font-size="10" fill="#000" stroke="#000" stroke-width="0.2" textLength="55" lengthAdjust="spacingAndGlyphs" style='font-family:"Liberation Sans", sans-serif'>22 Mar 16:00</text>
<rect x="197" y="828" width="1" height="3" fill="#000"/>
<text x="196" y="840" font-size="10" fill="#000" stroke="#000" stroke-width="0.2" textLength="55" lengthAdjust="spacingAndGlyphs" style='font-family:"Liberation Sans", sans-serif'>23 Mar 08:00</text>
<rect x="261" y="828" width="1" height="3" fill="#000"/>
<text x="260" y="840" font-size="10" fill="#000" stroke="#000" stroke-width="0.2" textLength="55" lengthAdjust="spacingAndGlyphs" style='font-family:"Liberation Sans", sans-serif'>24 Mar 00:00</text>
<rect x="325" y="828" width="1" height="3" fill="#000"/>
<text x="324" y="840" font-size="10" fill="#000" stroke="#000" stroke-width="0.2" textLength="55" lengthAdjust="spacingAndGlyphs" style='font-family:"Liberation Sans", sans-serif'>24 Mar 16:00</text>
<rect x="389" y="828" width="1" height="3" fill="#000"/>
<text x="388" y="840" font-size="10" fill="#000" stroke="#000" stroke-width="0.2" textLength="55" lengthAdjust="spacingAndGlyphs" style='font-family:"Liberation Sans", sans-serif'>27 Mar 08:00</text>
<rect x="453" y="828" width="1" height="3" fill="#000"/>
<text x="452" y="840" font-size="10" fill="#000" stroke="#000" stroke-width="0.2" textLength="55" lengthAdjust="spacingAndGlyphs" style='font-family:"Liberation Sans", sans-serif'>28 Mar 00:00</text>
<rect x="517" y="828" width="1" height="3" fill="#000"/>
<text x="516" y="840" font-size="10" fill="#000" stroke="#000" stroke-width="0.2" textLength="55" lengthAdjust="spacingAndGlyphs" style='font-family:"Liberation Sans", sans-serif'>28 Mar 16:00</text>
<rect x="581" y="828" width="1" height="3" fill="#000"/>
<text x="580" y="840" font-size="10" fill="#000" stroke="#000" stroke-width="0.2" textLength="55" lengthAdjust="spacingAndGlyphs" style='font-family:"Liberation Sans", sans-serif'>29 Mar 08:00</text>
<rect x="645" y="828" width="1" height="3" fill="#000"/>
<text x="644" y="840" font-size="10" fill="#000" stroke="#000" stroke-width="0.2" textLength="55" lengthAdjust="spacingAndGlyphs" style='font-family:"Liberation Sans", sans-serif'>30 Mar 00:00</text>
<rect x="709" y="828" width="1" height="3" fill="#000"/>
<text x="708" y="840" font-size="10" fill="#000" stroke="#000" stroke-width="0.2" textLength="55" lengthAdjust="spacingAndGlyphs" style='font-family:"Liberation Sans", sans-serif'>30 Mar 16:00</text>
<rect x="773" y="828" width="1" height="3" fill="#000"/>
<text x="772" y="840" font-size="10" fill="#000" stroke="#000" stroke-width="0.2" textLength="55" lengthAdjust="spacingAndGlyphs" style='font-family:"Liberation Sans", sans-serif'>31 Mar 08:00</text>
<rect x="837" y="828" width="1" height="3" fill="#000"/>
<text x="836" y="840" font-size="10" fill="#000" stroke="#000" stroke-width="0.2" textLength="48.6" lengthAdjust="spacingAndGlyphs" style='font-family:"Liberation Sans", sans-serif'>3 Apr 00:00</text>
<rect x="901" y="828" width="1" height="3" fill="#000"/>
<text x="900" y="840" font-size="10" fill="#000" stroke="#000" stroke-width="0.2" textLength="48.6" lengthAdjust="spacingAndGlyphs" style='font-family:"Liberation Sans", sans-serif'>3 Apr 16:00</text>
<rect x="965" y="828" width="1" height="3" fill="#000"/>
<text x="964" y="840" font-size="10" fill="#000" stroke="#000" stroke-width="0.2" textLength="48.6" lengthAdjust="spacingAndGlyphs" style='font-family:"Liberation Sans", sans-serif'>4 Apr 08:00</text>
<rect x="1029" y="828" width="1" height="3" fill="#000"/>
<text x="1028" y="840" font-size="10" fill="#000" stroke="#000" stroke-width="0.2" textLength="48.6" lengthAdjust="spacingAndGlyphs" style='font-family:"Liberation Sans", sans-serif'>5 Apr 00:00</text>
<rect x="1093" y="828" width="1" height="3" fill="#000"/>
<text x="1092" y="840" font-size="10" fill="#000" stroke="#000" stroke-width="0.2" textLength="48.6" lengthAdjust="spacingAndGlyphs" style='font-family:"Liberation Sans", sans-serif'>5 Apr 16:00</text>
<rect x="1157" y="828" width="1" height="3" fill="#000"/>
<text x="1156" y="840" font-size="10" fill="#000" stroke="#000" stroke-width="0.2" textLength="48.6" lengthAdjust="spacingAndGlyphs" style='font-family:"Liberation Sans", sans-serif'>6 Apr 08:00</text>
<rect x="1221" y="828" width="1" height="3" fill="#000"/>
<text x="1220" y="840" font-size="10" fill="#000" stroke="#000" stroke-width="0.2" textLength="48.6" lengthAdjust="spacingAndGlyphs" style='font-family:"Liberation Sans", sans-serif'>7 Apr 00:00</text>
<rect x="1285" y="828" width="1" height="3" fill="#000"/>
<text x="1284" y="840" font-size="10" fill="#000" stroke="#000" stroke-width="0.2" textLength="48.6" lengthAdjust="spacingAndGlyphs" style='font-family:"Liberation Sans", sans-serif'>7 Apr 16:00</text>
<g shape-rendering="auto">
<rect x="5" y="2" width="1" height="21" fill="#a0a0a0"/>
<rect x="241" y="2" width="1" height="21" fill="#a0a0a0"/>
<rect x="336" y="2" width="1" height="21" fill="#a0a0a0"/>
<rect x="426" y="2" width="1" height="21" fill="#a0a0a0"/>
<rect x="488" y="2" width="1" height="21" fill="#a0a0a0"/>
<rect x="609" y="2" width="1" height="21" fill="#a0a0a0"/>
<rect x="677" y="2" width="1" height="21" fill="#a0a0a0"/>
<rect x="915" y="2" width="1" height="21" fill="#a0a0a0"/>
<rect x="1176" y="2" width="1" height="21" fill="#a0a0a0"/>
<rect x="245" y="3.0" width="3" height="1" fill="#b4b4b4"/>
<rect x="245" y="5.6" width="3" height="1" fill="#b4b4b4"/>
<rect x="245" y="8.2" width="3" height="1" fill="#b4b4b4"/>
<rect x="245" y="10.8" width="3" height="1" fill="#b4b4b4"/>
<rect x="245" y="13.4" width="3" height="1" fill="#b4b4b4"/>
<rect x="245" y="16.0" width="3" height="1" fill="#b4b4b4"/>
<rect x="245" y="18.6" width="3" height="1" fill="#b4b4b4"/>
<rect x="245" y="21.2" width="3" height="1" fill="#b4b4b4"/>
<rect x="614" y="3.0" width="3" height="1" fill="#b4b4b4"/>
<rect x="614" y="5.6" width="3" height="1" fill="#b4b4b4"/>
<rect x="614" y="8.2" width="3" height="1" fill="#b4b4b4"/>
<rect x="614" y="10.8" width="3" height="1" fill="#b4b4b4"/>
<rect x="614" y="13.4" width="3" height="1" fill="#b4b4b4"/>
<rect x="614" y="16.0" width="3" height="1" fill="#b4b4b4"/>
<rect x="614" y="18.6" width="3" height="1" fill="#b4b4b4"/>
<rect x="614" y="21.2" width="3" height="1" fill="#b4b4b4"/>
<rect x="919" y="3.0" width="3" height="1" fill="#b4b4b4"/>
<rect x="919" y="5.6" width="3" height="1" fill="#b4b4b4"/>
<rect x="919" y="8.2" width="3" height="1" fill="#b4b4b4"/>
<rect x="919" y="10.8" width="3" height="1" fill="#b4b4b4"/>
<rect x="919" y="13.4" width="3" height="1" fill="#b4b4b4"/>
<rect x="919" y="16.0" width="3" height="1" fill="#b4b4b4"/>
<rect x="919" y="18.6" width="3" height="1" fill="#b4b4b4"/>
<rect x="919" y="21.2" width="3" height="1" fill="#b4b4b4"/>
<defs><pattern id="chk" x="0" y="0" width="2" height="2" patternUnits="userSpaceOnUse"><rect width="2" height="2" fill="#f0f0f0"/><rect width="1" height="1" fill="#fff"/><rect x="1" y="1" width="1" height="1" fill="#fff"/></pattern></defs>
<rect x="279" y="1" width="26" height="23" fill="url(#chk)" shape-rendering="crispEdges"/>
<rect x="279" y="1" width="25" height="1" fill="#a0a0a0"/>
<rect x="279" y="1" width="1" height="22" fill="#a0a0a0"/>
<rect x="304" y="1" width="1" height="23" fill="#fff"/>
<rect x="279" y="23" width="26" height="1" fill="#fff"/>
<rect x="431" y="1" width="26" height="23" fill="url(#chk)" shape-rendering="crispEdges"/>
<rect x="431" y="1" width="25" height="1" fill="#a0a0a0"/>
<rect x="431" y="1" width="1" height="22" fill="#a0a0a0"/>
<rect x="456" y="1" width="1" height="23" fill="#fff"/>
<rect x="431" y="23" width="26" height="1" fill="#fff"/>
<rect x="459" y="1" width="26" height="23" fill="url(#chk)" shape-rendering="crispEdges"/>
<rect x="459" y="1" width="25" height="1" fill="#a0a0a0"/>
<rect x="459" y="1" width="1" height="22" fill="#a0a0a0"/>
<rect x="484" y="1" width="1" height="23" fill="#fff"/>
<rect x="459" y="23" width="26" height="1" fill="#fff"/>
<rect x="619" y="1" width="26" height="23" fill="url(#chk)" shape-rendering="crispEdges"/>
<rect x="619" y="1" width="25" height="1" fill="#a0a0a0"/>
<rect x="619" y="1" width="1" height="22" fill="#a0a0a0"/>
<rect x="644" y="1" width="1" height="23" fill="#fff"/>
<rect x="619" y="23" width="26" height="1" fill="#fff"/>
<rect x="1065" y="1" width="26" height="23" fill="url(#chk)" shape-rendering="crispEdges"/>
<rect x="1065" y="1" width="25" height="1" fill="#a0a0a0"/>
<rect x="1065" y="1" width="1" height="22" fill="#a0a0a0"/>
<rect x="1090" y="1" width="1" height="23" fill="#fff"/>
<rect x="1065" y="23" width="26" height="1" fill="#fff"/>
<defs><linearGradient id="gp" x1="0" y1="0" x2="1" y2="1"><stop offset="0" stop-color="#8ff08f"/><stop offset="0.6" stop-color="#0be00b"/><stop offset="1" stop-color="#06b806"/></linearGradient></defs>
<path d="M15.7,5.7 h8.8 l2.3,2.3 v10.3 h-11.1 z" fill="#fff" stroke="#707070" stroke-width="1.1"/>
<path d="M24,5.8 v2.7 h2.7" fill="none" stroke="#707070" stroke-width="0.9"/>
<rect x="17" y="7" width="3" height="1.6" fill="#7a7a7a"/>
<rect x="17" y="10.8" width="6" height="1" fill="#7a7a7a"/>
<rect x="17" y="12.9" width="5" height="1" fill="#7a7a7a"/>
<rect x="17" y="15" width="3" height="1" fill="#7a7a7a"/>
<path d="M23.3,11.5 h3.5 v3.8 h3.8 v3.3 h-3.8 v3.8 h-3.5 v-3.8 h-3.8 v-3.3 h3.8 z" fill="url(#gp)" stroke="#078a07" stroke-width="0.9"/>
<text x="34" y="16" font-size="12" fill="#000" textLength="36" lengthAdjust="spacingAndGlyphs" style='font-family:"Liberation Sans", sans-serif'>新订单</text>
<defs><linearGradient id="gb" x1="0" y1="0" x2="1" y2="1"><stop offset="0" stop-color="#fff27a"/><stop offset="0.5" stop-color="#e9b91c"/><stop offset="1" stop-color="#f6de6a"/></linearGradient><linearGradient id="gc" x1="0" y1="0" x2="0" y2="1"><stop offset="0" stop-color="#ffffff"/><stop offset="1" stop-color="#b9c6dc"/></linearGradient><linearGradient id="gg" x1="0" y1="0" x2="1" y2="1"><stop offset="0" stop-color="#e8f2e0"/><stop offset="1" stop-color="#2fa53a"/></linearGradient></defs>
<path d="M87.8,6.3 L96.7,12.7 L97.4,15.2 L89.8,20.4 L82.3,14.7 L86.8,9.6 Z" fill="url(#gb)" stroke="#a8700e" stroke-width="0.9"/>
<path d="M83.2,15.2 L89.6,19.8 L96.6,15" fill="none" stroke="#f8e6a8" stroke-width="1.1"/>
<path d="M112.3,5.4 h8.6 l2,2 v7.5 h-10.6 z" fill="#0a9af0" stroke="#1a6fd0" stroke-width="0.6"/>
<path d="M114.7,6.5 v8 M115,10.5 h6" stroke="#e8f6ff" stroke-width="0.8" fill="none"/>
<path d="M111.5,20.3 c-1.8,0,-1.8,-3.6,0.4,-3.6 c0.2,-2.2,3.3,-2.6,4.4,-1 c0.9,-2.2,4.4,-2.2,5.2,0.3 c2.2,-0.7,4.3,1.4,3.2,3.3 c-0.2,0.6,-0.5,1,-1,1 z" fill="url(#gc)" stroke="#3f5a8c" stroke-width="0.9"/>
<path d="M146,13 v7.5 a7.5,7.5 0 0 0 7.5,-7.5 z" fill="url(#gg)"/>
<circle cx="146" cy="13" r="7.5" fill="none" stroke="#7a9ad8" stroke-width="1"/>
<circle cx="146" cy="13" r="4.6" fill="none" stroke="#6f9ad0" stroke-width="1"/>
<circle cx="146" cy="13" r="1.9" fill="#2c5ac6"/>
<path d="M146.5,13 v7.5" stroke="#1f9a2a" stroke-width="1.2"/>
<path d="M165.4,12.2 L180.8,12.2 L176.5,20.4 L172.3,20.5 Z" fill="#f4dc48" stroke="#c99a12" stroke-width="0.8"/>
<path d="M165.2,11.2 C164.8,8.6 168.6,8.2 171.5,8.6 L178,7.6 C181.2,7.1 181.6,9.8 180.2,10.8 C177,12.8 168.2,13.2 165.2,11.2 Z" fill="#68b6e4" stroke="#2b7fae" stroke-width="0.9"/>
<path d="M169.2,9.6 C168.8,5.6 176,4.6 176.6,8.8 Z" fill="#82c8ef" stroke="#2b7fae" stroke-width="0.8"/>
<circle cx="177.3" cy="16.9" r="4.1" fill="#dd2a12" stroke="#a8160a" stroke-width="0.7"/>
<rect x="176" y="15.4" width="2.8" height="2.8" fill="#fff"/>
<text x="186.5" y="16" font-size="12" fill="#000" textLength="46.5" lengthAdjust="spacingAndGlyphs" style='font-family:"Liberation Sans", sans-serif'>自动交易</text>
<path d="M259.5,7 v13 M257,18.5 h13" stroke="#555" stroke-width="1.1" fill="none"/>
<path d="M258,9 l1.5,-2 l1.5,2 M268,17 l2,1.5 l-2,1.5" stroke="#555" stroke-width="1" fill="none"/>
<path d="M265.5,17 v-9 M262.5,15.5 h3 M265.5,9.5 h3" stroke="#0a8a0a" stroke-width="1.2" fill="none"/>
<path d="M287.5,7 v13 M285,18.5 h13" stroke="#555" stroke-width="1.1" fill="none"/>
<path d="M286,9 l1.5,-2 l1.5,2 M296,17 l2,1.5 l-2,1.5" stroke="#555" stroke-width="1" fill="none"/>
<path d="M293.5,5 v12" stroke="#0a8a0a" stroke-width="1.2"/>
<rect x="291.2" y="7.2" width="4.6" height="7.4" fill="#3ddc3d" stroke="#0a8a0a" stroke-width="1"/>
<path d="M315.5,7 v13 M313,18.5 h13" stroke="#555" stroke-width="1.1" fill="none"/>
<path d="M314,9 l1.5,-2 l1.5,2 M324,17 l2,1.5 l-2,1.5" stroke="#555" stroke-width="1" fill="none"/>
<path d="M314,15.5 C316,12.5 318,10 320,10 C322,10 324,13 326.5,14" fill="none" stroke="#2aa52a" stroke-width="1.1"/>
<path d="M354,13 l6,6" stroke="#b8941d" stroke-width="2.6" stroke-linecap="round"/>
<circle cx="351" cy="11" r="5.2" fill="#d6ecfb" stroke="#3a7dd6" stroke-width="1.3"/>
<path d="M348.5,11 h5" stroke="#2a6ac8" stroke-width="1.6"/>
<path d="M351,8.5 v5" stroke="#2a6ac8" stroke-width="1.6"/>
<path d="M382,13 l6,6" stroke="#b8941d" stroke-width="2.6" stroke-linecap="round"/>
<circle cx="379" cy="11" r="5.2" fill="#d6ecfb" stroke="#3a7dd6" stroke-width="1.3"/>
<path d="M376.5,11 h5" stroke="#2a6ac8" stroke-width="1.6"/>
<rect x="401" y="5" width="7.5" height="7.5" fill="#2e9e2e"/>
<rect x="402.5" y="8" width="4.5" height="2.5" fill="#fff"/>
<rect x="409" y="5" width="7.5" height="7.5" fill="#1f5fd0"/>
<rect x="410.5" y="8" width="4.5" height="2.5" fill="#fff"/>
<rect x="401" y="13" width="7.5" height="7.5" fill="#1f5fd0"/>
<rect x="402.5" y="16" width="4.5" height="2.5" fill="#fff"/>
<rect x="409" y="13" width="7.5" height="7.5" fill="#2e9e2e"/>
<rect x="410.5" y="16" width="4.5" height="2.5" fill="#fff"/>
<path d="M439.5,7 v13 M437,18.5 h13" stroke="#555" stroke-width="1.1" fill="none"/>
<path d="M438,9 l1.5,-2 l1.5,2 M448,17 l2,1.5 l-2,1.5" stroke="#555" stroke-width="1" fill="none"/>
<path d="M444.5,9 l4,3 l-4,3 z" fill="#22aa22"/>
<path d="M467.5,7 v13 M465,18.5 h13" stroke="#555" stroke-width="1.1" fill="none"/>
<path d="M466,9 l1.5,-2 l1.5,2 M476,17 l2,1.5 l-2,1.5" stroke="#555" stroke-width="1" fill="none"/>
<path d="M473.5,7 v10" stroke="#1f6fc2" stroke-width="1.2"/>
<path d="M479,12 h-4 M476.5,10 l-2,2 l2,2" stroke="#d4400f" stroke-width="1.3" fill="none"/>
<path d="M498.5,6 h7 l2.5,2.5 v10 h-9.5 z" fill="#fff" stroke="#808080" stroke-width="1"/>
<path d="M505,12 h3.5 v3.5 h3.5 v3.5 h-3.5 v3.5 h-3.5 v-3.5 h-3.5 v-3.5 h3.5 z" fill="#19c319" stroke="#0a8a0a" stroke-width="0.7"/>
<polygon points="520,12 526,12 523,15" fill="#000"/>
<circle cx="544" cy="12.5" r="7.3" fill="#1e6ed6" stroke="#0f4fa8" stroke-width="0.8"/>
<circle cx="544" cy="12.5" r="5.7" fill="#fdfdfd"/>
<path d="M544,9.5 v3 h2.5" stroke="#333" stroke-width="0.9" fill="none"/>
<polygon points="559,12 565,12 562,15" fill="#000"/>
<rect x="575.5" y="6.5" width="15" height="13" fill="#fff" stroke="#4a7cc8" stroke-width="1"/>
<rect x="575.5" y="6.5" width="15" height="2" fill="#4a7cc8"/>
<path d="M577,12 l3,-1 l3,1 l3,-1.5 l3,0.5" stroke="#c0392b" stroke-width="0.9" fill="none"/>
<path d="M577,17 l3,-1 l3,1 l3,-1.5 l3,0.5" stroke="#27a527" stroke-width="0.9" fill="none"/>
<polygon points="598,12 604,12 601,15" fill="#000"/>
<path d="M627,6 l0,13 l3,-3 l2.5,5 l2,-1 l-2.5,-5 l4.5,0 z" fill="#444"/>
<path d="M652,13.5 h6 M661,13.5 h6 M659.5,6 v6 M659.5,15 v6" stroke="#555" stroke-width="1"/>
<path d="M693.5,7 v13" stroke="#555" stroke-width="1.2"/>
<path d="M716,13.5 h12" stroke="#555" stroke-width="1.2"/>
<path d="M744,20 l12,-12" stroke="#555" stroke-width="1.2"/>
<path d="M770,14 l11,-8 M771,19 l11,-8 M773,17 l1,-6 M776,15 l1,-6 M779,13 l1,-6 M782,8 l-1,-3" stroke="#555" stroke-width="1" fill="none"/>
<text x="780.5" y="21.5" font-size="8" fill="#444" font-weight="bold" style='font-family:"Liberation Sans", sans-serif'>E</text>
<rect x="799" y="6" width="1" height="1" fill="#666"/>
<rect x="801" y="6" width="1" height="1" fill="#666"/>
<rect x="803" y="6" width="1" height="1" fill="#666"/>
<rect x="805" y="6" width="1" height="1" fill="#666"/>
<rect x="807" y="6" width="1" height="1" fill="#666"/>
<rect x="809" y="6" width="1" height="1" fill="#666"/>
<rect x="811" y="6" width="1" height="1" fill="#666"/>
<rect x="799" y="9" width="1" height="1" fill="#666"/>
<rect x="801" y="9" width="1" height="1" fill="#666"/>
<rect x="803" y="9" width="1" height="1" fill="#666"/>
<rect x="805" y="9" width="1" height="1" fill="#666"/>
<rect x="807" y="9" width="1" height="1" fill="#666"/>
<rect x="809" y="9" width="1" height="1" fill="#666"/>
<rect x="811" y="9" width="1" height="1" fill="#666"/>
<rect x="799" y="13" width="1" height="1" fill="#666"/>
<rect x="801" y="13" width="1" height="1" fill="#666"/>
<rect x="803" y="13" width="1" height="1" fill="#666"/>
<rect x="805" y="13" width="1" height="1" fill="#666"/>
<rect x="807" y="13" width="1" height="1" fill="#666"/>
<rect x="809" y="13" width="1" height="1" fill="#666"/>
<rect x="811" y="13" width="1" height="1" fill="#666"/>
<rect x="799" y="17" width="1" height="1" fill="#666"/>
<rect x="801" y="17" width="1" height="1" fill="#666"/>
<rect x="803" y="17" width="1" height="1" fill="#666"/>
<rect x="805" y="17" width="1" height="1" fill="#666"/>
<rect x="807" y="17" width="1" height="1" fill="#666"/>
<rect x="809" y="17" width="1" height="1" fill="#666"/>
<rect x="811" y="17" width="1" height="1" fill="#666"/>
<text x="808" y="21.5" font-size="8" fill="#444" font-weight="bold" style='font-family:"Liberation Sans", sans-serif'>F</text>
<text x="829.5" y="17.5" font-size="11" fill="#555" textLength="8" lengthAdjust="spacingAndGlyphs" style='font-family:"Liberation Sans", sans-serif'>A</text>
<rect x="856" y="7" width="1" height="1" fill="#666"/>
<rect x="856" y="19" width="1" height="1" fill="#666"/>
<rect x="858" y="7" width="1" height="1" fill="#666"/>
<rect x="858" y="19" width="1" height="1" fill="#666"/>
<rect x="860" y="7" width="1" height="1" fill="#666"/>
<rect x="860" y="19" width="1" height="1" fill="#666"/>
<rect x="862" y="7" width="1" height="1" fill="#666"/>
<rect x="862" y="19" width="1" height="1" fill="#666"/>
<rect x="864" y="7" width="1" height="1" fill="#666"/>
<rect x="864" y="19" width="1" height="1" fill="#666"/>
<rect x="866" y="7" width="1" height="1" fill="#666"/>
<rect x="866" y="19" width="1" height="1" fill="#666"/>
<rect x="856" y="7" width="1" height="1" fill="#666"/>
<rect x="867" y="7" width="1" height="1" fill="#666"/>
<rect x="856" y="9" width="1" height="1" fill="#666"/>
<rect x="867" y="9" width="1" height="1" fill="#666"/>
<rect x="856" y="11" width="1" height="1" fill="#666"/>
<rect x="867" y="11" width="1" height="1" fill="#666"/>
<rect x="856" y="13" width="1" height="1" fill="#666"/>
<rect x="867" y="13" width="1" height="1" fill="#666"/>
<rect x="856" y="15" width="1" height="1" fill="#666"/>
<rect x="867" y="15" width="1" height="1" fill="#666"/>
<rect x="856" y="17" width="1" height="1" fill="#666"/>
<rect x="867" y="17" width="1" height="1" fill="#666"/>
<rect x="856" y="19" width="1" height="1" fill="#666"/>
<rect x="867" y="19" width="1" height="1" fill="#666"/>
<text x="857.5" y="17.5" font-size="11" fill="#555" textLength="8" lengthAdjust="spacingAndGlyphs" font-weight="bold" style='font-family:"Liberation Sans", sans-serif'>T</text>
<path d="M883,11 l3,-3 l3,3 z M891,16 l3,-3 l3,3 l-3,3 z" fill="#444"/>
<path d="M886,13 l2,2 l4,-4" stroke="#444" stroke-width="1.2" fill="none"/>
<polygon points="903.5,12 909.5,12 906.5,15" fill="#000"/>
<text x="931" y="17" font-size="10" fill="#333" textLength="12" lengthAdjust="spacingAndGlyphs" style='font-family:"Liberation Sans", sans-serif'>M1</text>
<text x="958.5" y="17" font-size="10" fill="#333" textLength="12.5" lengthAdjust="spacingAndGlyphs" style='font-family:"Liberation Sans", sans-serif'>M5</text>
<text x="984.5" y="17" font-size="10" fill="#333" textLength="18" lengthAdjust="spacingAndGlyphs" style='font-family:"Liberation Sans", sans-serif'>M15</text>
<text x="1012" y="17" font-size="10" fill="#333" textLength="18.5" lengthAdjust="spacingAndGlyphs" style='font-family:"Liberation Sans", sans-serif'>M30</text>
<text x="1043.5" y="17" font-size="10" fill="#333" textLength="11.5" lengthAdjust="spacingAndGlyphs" style='font-family:"Liberation Sans", sans-serif'>H1</text>
<text x="1071" y="17" font-size="10" fill="#333" textLength="12" lengthAdjust="spacingAndGlyphs" style='font-family:"Liberation Sans", sans-serif'>H4</text>
<text x="1099.5" y="17" font-size="10" fill="#333" textLength="11.5" lengthAdjust="spacingAndGlyphs" style='font-family:"Liberation Sans", sans-serif'>D1</text>
<text x="1127.5" y="17" font-size="10" fill="#333" textLength="14" lengthAdjust="spacingAndGlyphs" style='font-family:"Liberation Sans", sans-serif'>W1</text>
<text x="1153.5" y="17" font-size="10" fill="#333" textLength="15" lengthAdjust="spacingAndGlyphs" style='font-family:"Liberation Sans", sans-serif'>MN</text>
<circle cx="1646.5" cy="10.4" r="4.1" fill="#fff" stroke="#2f64d0" stroke-width="1.3"/>
<path d="M1643.5,13.5 l-4,4" stroke="#2f64d0" stroke-width="2.4" stroke-linecap="round"/>
<ellipse cx="1669" cy="15" rx="6" ry="5" fill="#e6e8ee" stroke="#a8a8a8" stroke-width="0.9"/>
<path d="M1666,19 l-2,3 l4,-2" fill="#c8c8c8"/>
<circle cx="1677.5" cy="10.3" r="8.2" fill="#e0301e"/>
<text x="1677.5" y="14.8" font-size="12" fill="#fff" text-anchor="middle" font-weight="bold" style='font-family:"Liberation Sans", sans-serif'>1</text>
</g>
</svg></body></html>
